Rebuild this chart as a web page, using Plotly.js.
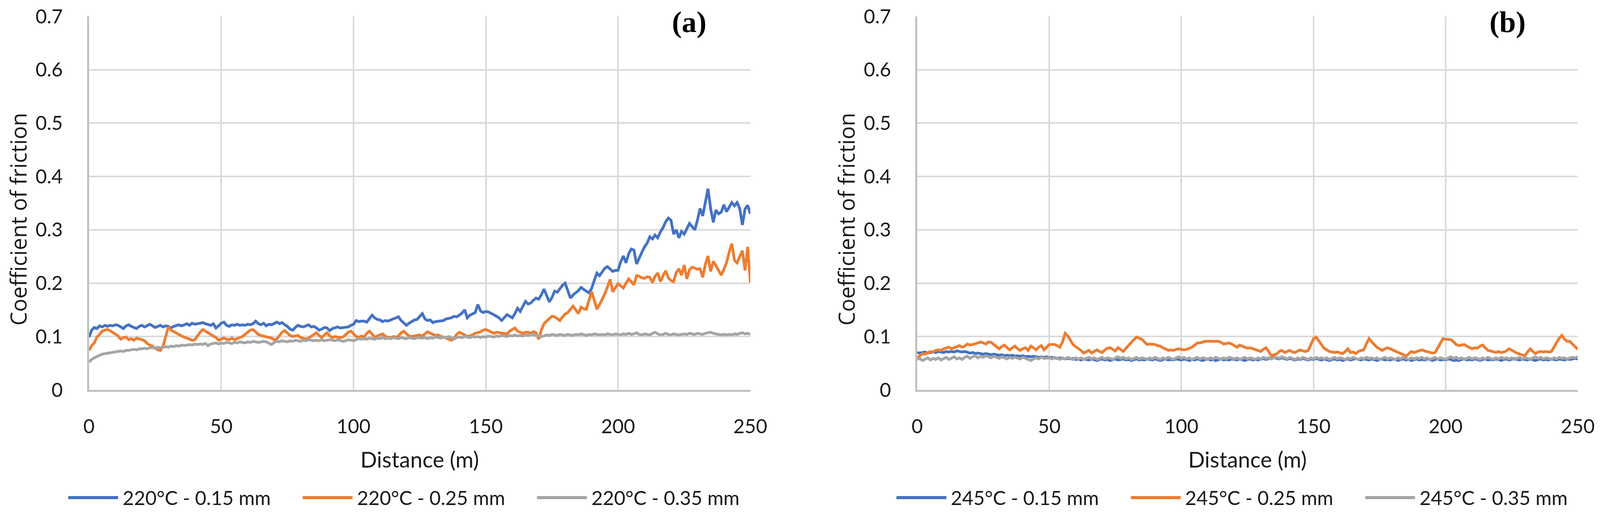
<!DOCTYPE html>
<html><head><meta charset="utf-8">
<script src="https://cdn.plot.ly/plotly-3.0.1.min.js"></script>
<style>html,body{margin:0;padding:0;background:#fff;overflow:hidden}</style>
</head><body><div id="chart"></div>
<script>
// ---------- DATA ----------
const distance = [0,1,2,3,4,5,6,7,8,9,10,11,12,13,14,15,16,17,18,19,20,21,22,23,24,25,26,27,28,29,30,31,32,33,34,35,36,37,38,39,40,41,42,43,44,45,46,47,48,49,50,51,52,53,54,55,56,57,58,59,60,61,62,63,64,65,66,67,68,69,70,71,72,73,74,75,76,77,78,79,80,81,82,83,84,85,86,87,88,89,90,91,92,93,94,95,96,97,98,99,100,101,102,103,104,105,106,107,108,109,110,111,112,113,114,115,116,117,118,119,120,121,122,123,124,125,126,127,128,129,130,131,132,133,134,135,136,137,138,139,140,141,142,143,144,145,146,147,148,149,150,151,152,153,154,155,156,157,158,159,160,161,162,163,164,165,166,167,168,169,170,171,172,173,174,175,176,177,178,179,180,181,182,183,184,185,186,187,188,189,190,191,192,193,194,195,196,197,198,199,200,201,202,203,204,205,206,207,208,209,210,211,212,213,214,215,216,217,218,219,220,221,222,223,224,225,226,227,228,229,230,231,232,233,234,235,236,237,238,239,240,241,242,243,244,245,246,247,248,249,250];

const cof220_015 = [
.099,.112,.117,.115,.120,.118,.121,.119,.121,.120,
.122,.121,.118,.115,.120,.122,.119,.117,.115,.119,
.121,.118,.121,.123,.120,.117,.119,.121,.118,.120,
.119,.116,.119,.121,.122,.120,.122,.124,.121,.125,
.123,.124,.126,.126,.124,.122,.121,.124,.116,.120,
.125,.127,.121,.119,.122,.121,.123,.121,.122,.121,
.123,.122,.124,.129,.124,.122,.125,.120,.123,.122,
.125,.127,.124,.126,.122,.119,.114,.112,.117,.121,
.119,.118,.120,.122,.118,.119,.116,.112,.114,.117,
.116,.111,.115,.117,.118,.116,.117,.118,.118,.121,
.123,.130,.128,.129,.129,.127,.133,.140,.135,.132,
.131,.128,.130,.129,.131,.133,.135,.137,.130,.126,
.121,.125,.128,.131,.132,.137,.143,.133,.130,.131,
.126,.128,.129,.130,.130,.133,.134,.135,.138,.137,
.140,.144,.150,.135,.140,.143,.145,.160,.148,.145,
.147,.146,.144,.141,.138,.135,.130,.136,.141,.138,
.135,.143,.153,.147,.158,.166,.161,.163,.168,.172,
.170,.178,.189,.178,.165,.173,.185,.183,.190,.196,
.200,.185,.172,.178,.182,.186,.192,.188,.185,.182,
.190,.205,.219,.214,.222,.228,.231,.227,.222,.224,
.224,.240,.251,.238,.255,.264,.262,.236,.248,.258,
.268,.275,.287,.283,.290,.285,.296,.304,.315,.322,
.318,.292,.300,.285,.297,.292,.302,.312,.306,.300,
.318,.340,.326,.350,.377,.340,.314,.337,.330,.333,
.347,.334,.342,.351,.345,.351,.340,.309,.339,.346,
.330];

const cof220_025 = [
.074,.083,.088,.099,.104,.110,.112,.113,.111,.108,
.105,.101,.095,.098,.099,.094,.096,.093,.097,.096,
.094,.092,.087,.084,.082,.078,.075,.074,.082,.100,
.118,.112,.109,.106,.103,.101,.099,.097,.095,.093,
.094,.102,.108,.113,.110,.106,.103,.101,.098,.093,
.095,.097,.095,.094,.097,.094,.096,.098,.100,.104,
.108,.112,.113,.109,.104,.102,.101,.099,.098,.097,
.094,.095,.102,.108,.111,.106,.102,.100,.101,.102,
.098,.096,.095,.097,.100,.104,.107,.102,.098,.103,
.107,.101,.098,.100,.099,.098,.099,.104,.108,.110,
.104,.100,.099,.101,.099,.106,.110,.104,.099,.101,
.103,.105,.101,.098,.098,.100,.099,.101,.107,.110,
.105,.101,.100,.101,.103,.103,.101,.105,.109,.106,
.104,.102,.103,.100,.099,.097,.095,.093,.097,.104,
.108,.106,.103,.100,.101,.103,.106,.107,.109,.112,
.113,.111,.108,.106,.108,.107,.107,.105,.105,.110,
.113,.116,.110,.108,.106,.108,.108,.106,.109,.107,
.095,.112,.124,.129,.134,.138,.137,.133,.130,.137,
.142,.145,.152,.157,.150,.143,.155,.152,.151,.168,
.184,.168,.151,.160,.170,.180,.193,.207,.184,.192,
.199,.195,.191,.200,.208,.203,.197,.214,.213,.210,
.209,.212,.211,.201,.213,.219,.203,.214,.223,.210,
.205,.203,.220,.227,.215,.234,.208,.225,.230,.228,
.226,.227,.211,.235,.251,.222,.241,.233,.224,.215,
.226,.238,.258,.274,.243,.238,.250,.261,.224,.268,
.201];

const cof220_035 = [
.052,.057,.060,.063,.065,.067,.068,.069,.070,.071,
.071,.072,.073,.072,.074,.074,.075,.076,.075,.077,
.077,.078,.077,.079,.079,.078,.080,.079,.080,.081,
.080,.082,.081,.083,.082,.084,.083,.084,.085,.084,
.086,.085,.086,.085,.087,.083,.086,.087,.088,.086,
.088,.087,.089,.088,.087,.089,.088,.090,.089,.088,
.090,.089,.091,.090,.089,.090,.091,.090,.088,.085,
.089,.091,.090,.092,.091,.090,.092,.091,.093,.092,
.091,.093,.092,.094,.093,.092,.093,.092,.094,.092,
.093,.094,.093,.092,.094,.093,.091,.092,.094,.093,
.092,.094,.096,.095,.096,.095,.097,.096,.095,.097,
.096,.098,.096,.097,.096,.098,.097,.096,.098,.097,
.096,.098,.097,.096,.098,.097,.097,.098,.096,.098,
.097,.099,.098,.097,.099,.098,.100,.097,.095,.098,
.099,.098,.100,.099,.098,.100,.099,.100,.098,.100,
.099,.101,.100,.099,.101,.100,.102,.101,.100,.102,
.101,.103,.101,.102,.101,.103,.102,.103,.104,.102,
.101,.100,.101,.103,.102,.104,.103,.102,.104,.103,
.102,.104,.103,.102,.104,.103,.105,.103,.102,.104,
.103,.105,.104,.103,.104,.103,.105,.104,.103,.105,
.104,.103,.105,.104,.106,.104,.105,.107,.104,.103,
.105,.104,.103,.106,.108,.105,.103,.104,.106,.104,
.103,.105,.104,.103,.104,.105,.104,.106,.105,.104,
.106,.105,.104,.106,.107,.108,.106,.105,.104,.103,
.104,.103,.104,.103,.105,.104,.106,.107,.105,.106,
.104];

const cof245_015 = [
.070,.069,.070,.071,.069,.070,.071,.070,.072,.071,
.070,.072,.071,.072,.071,.073,.072,.071,.072,.070,
.069,.070,.068,.069,.068,.067,.068,.067,.066,.067,
.066,.065,.066,.064,.065,.064,.065,.063,.064,.063,
.064,.062,.063,.062,.063,.062,.061,.062,.061,.062,
.060,.061,.060,.059,.060,.059,.058,.059,.058,.059,
.057,.058,.056,.058,.057,.056,.058,.057,.055,.057,
.058,.056,.057,.055,.057,.058,.056,.057,.058,.056,
.057,.055,.057,.058,.056,.057,.056,.058,.057,.056,
.058,.057,.055,.057,.058,.056,.057,.056,.058,.057,
.056,.058,.057,.055,.057,.056,.058,.057,.055,.057,
.058,.056,.057,.055,.057,.058,.056,.057,.056,.058,
.057,.056,.058,.057,.055,.057,.058,.056,.057,.056,
.058,.059,.057,.058,.060,.061,.059,.058,.060,.058,
.057,.059,.058,.056,.058,.057,.059,.058,.056,.058,
.057,.059,.058,.056,.058,.057,.055,.057,.058,.056,
.057,.055,.057,.058,.056,.057,.059,.057,.056,.058,
.057,.056,.058,.057,.055,.057,.058,.056,.057,.056,
.058,.057,.055,.057,.058,.056,.057,.055,.057,.058,
.056,.057,.056,.058,.057,.055,.057,.058,.056,.057,
.056,.058,.057,.055,.056,.055,.057,.058,.056,.057,
.056,.058,.057,.055,.057,.058,.056,.057,.056,.058,
.057,.055,.057,.058,.056,.057,.059,.057,.056,.058,
.057,.056,.058,.057,.055,.057,.058,.056,.057,.056,
.058,.057,.056,.058,.057,.056,.058,.057,.058,.059,
.058];

const cof245_025 = [
.060,.064,.068,.067,.070,.072,.071,.074,.075,.074,
.077,.079,.080,.077,.079,.082,.083,.080,.082,.086,
.084,.085,.086,.088,.090,.088,.086,.090,.089,.085,
.081,.077,.081,.084,.079,.075,.079,.082,.077,.074,
.077,.079,.074,.082,.079,.075,.080,.083,.075,.080,
.085,.085,.085,.083,.080,.090,.106,.101,.094,.085,
.081,.078,.074,.069,.072,.074,.069,.072,.075,.072,
.070,.075,.078,.079,.076,.073,.079,.076,.072,.078,
.084,.089,.094,.099,.097,.095,.090,.085,.086,.086,
.085,.083,.082,.079,.076,.074,.075,.074,.076,.077,
.076,.075,.076,.078,.080,.084,.088,.088,.090,.091,
.091,.091,.091,.091,.091,.089,.086,.087,.088,.086,
.083,.080,.084,.082,.080,.078,.079,.077,.076,.073,
.072,.076,.079,.072,.064,.066,.067,.072,.074,.070,
.072,.074,.071,.070,.073,.075,.073,.072,.074,.085,
.096,.099,.092,.086,.078,.075,.072,.071,.070,.071,
.069,.068,.072,.077,.070,.071,.068,.072,.074,.075,
.086,.096,.090,.084,.080,.077,.074,.077,.079,.077,
.075,.073,.070,.068,.066,.063,.068,.072,.070,.072,
.074,.075,.073,.072,.071,.069,.070,.078,.088,.096,
.095,.094,.094,.090,.085,.083,.084,.085,.082,.079,
.077,.079,.078,.082,.084,.079,.074,.073,.072,.070,
.072,.070,.071,.073,.077,.074,.071,.069,.067,.066,
.064,.071,.077,.072,.068,.071,.072,.071,.072,.071,
.072,.080,.089,.097,.102,.095,.091,.091,.086,.081,
.076];

const cof245_035 = [
.057,.059,.055,.058,.060,.056,.059,.057,.060,.056,
.059,.061,.057,.059,.062,.058,.060,.057,.061,.063,
.059,.062,.064,.060,.063,.061,.064,.062,.060,.063,
.061,.059,.062,.060,.058,.061,.059,.061,.060,.058,
.061,.059,.057,.055,.058,.060,.058,.061,.059,.060,
.060,.058,.061,.059,.057,.060,.058,.061,.059,.057,
.060,.058,.060,.057,.059,.061,.058,.060,.057,.059,
.061,.058,.060,.059,.057,.060,.062,.059,.061,.058,
.060,.057,.059,.061,.058,.060,.059,.057,.060,.058,
.061,.059,.057,.060,.058,.061,.059,.057,.060,.062,
.059,.061,.058,.060,.057,.059,.061,.058,.060,.059,
.057,.060,.058,.061,.059,.057,.060,.058,.061,.059,
.058,.060,.057,.059,.061,.058,.060,.059,.057,.060,
.058,.061,.059,.060,.058,.060,.061,.059,.062,.060,
.058,.061,.059,.057,.060,.058,.061,.059,.057,.060,
.058,.061,.059,.060,.058,.060,.057,.059,.061,.058,
.060,.059,.057,.060,.058,.061,.059,.057,.060,.058,
.061,.059,.060,.058,.060,.057,.059,.061,.058,.060,
.059,.057,.060,.058,.061,.059,.057,.060,.058,.060,
.059,.061,.058,.060,.057,.059,.061,.058,.060,.059,
.057,.060,.062,.059,.061,.058,.060,.057,.059,.061,
.058,.060,.059,.057,.060,.058,.061,.059,.057,.060,
.058,.061,.059,.060,.058,.060,.057,.059,.061,.058,
.060,.059,.057,.060,.062,.059,.061,.058,.060,.059,
.057,.060,.058,.061,.059,.060,.058,.060,.061,.060,
.062];

const seriesNamesA = ['220°C - 0.15 mm', '220°C - 0.25 mm', '220°C - 0.35 mm'];
const seriesNamesB = ['245°C - 0.15 mm', '245°C - 0.25 mm', '245°C - 0.35 mm'];
const seriesA = [cof220_015, cof220_025, cof220_035];
const seriesB = [cof245_015, cof245_025, cof245_035];
const seriesColors = ['#4472C4', '#ED7D31', '#A5A5A5'];
const xTickVals = [0, 50, 100, 150, 200, 250];
const xTickText = ['0', '50', '100', '150', '200', '250'];
const yTickVals = [0, 0.1, 0.2, 0.3, 0.4, 0.5, 0.6, 0.7];
const yTickText = ['0', '0.1', '0.2', '0.3', '0.4', '0.5', '0.6', '0.7'];
const panelLabels = ['(a)', '(b)'];
const xTitle = 'Distance (m)';
const yTitle = 'Coefficient of friction';

// ---------- LAYOUT ----------
// design coordinates are in the reference's 4171 x 1317 pixel frame, converted to paper fractions
const DW = 4171, DH = 1317;
const W = window.innerWidth || DW;
const H = window.innerHeight || DH;
const px = v => v / DW;
const py = v => 1 - v / DH;
const panels = [
  {left: 232, right: 1956, xa: 'x', ya: 'y', names: seriesNamesA, series: seriesA, label: panelLabels[0], labelX: 1797},
  {left: 2391, right: 4113, xa: 'x2', ya: 'y2', names: seriesNamesB, series: seriesB, label: panelLabels[1], labelX: 3930}
];
const plotTop = 42, plotBottom = 999;
const TXT = '#1a1a1a';

function xAxis(p, anchor) {
  return {
    domain: [px(p.left), px(p.right)], range: [0, 250], anchor: anchor,
    tickmode: 'array', tickvals: xTickVals, ticktext: xTickText,
    showgrid: true, gridcolor: '#d9d9d9', gridwidth: 4,
    showline: true, linecolor: '#bfbfbf', linewidth: 5, zeroline: false,
    ticks: '', ticklabelstandoff: 46,
    tickfont: {family: 'Lato', size: 50, color: TXT},
    title: {text: xTitle, font: {family: 'Lato', size: 56, color: TXT}, standoff: 40},
    fixedrange: true
  };
}
function yAxis(p, anchor) {
  return {
    domain: [py(plotBottom), py(plotTop)], range: [0, 0.7], anchor: anchor,
    tickmode: 'array', tickvals: yTickVals, ticktext: yTickText,
    showgrid: true, gridcolor: '#d9d9d9', gridwidth: 4,
    showline: true, linecolor: '#bfbfbf', linewidth: 5, zeroline: false,
    ticks: '', ticklabelstandoff: 52,
    tickfont: {family: 'Lato', size: 50, color: TXT},
    fixedrange: true
  };
}

const traces = [];
const annotations = [];
const shapes = [];
panels.forEach(p => {
  p.series.forEach((vals, i) => {
    traces.push({
      type: 'scatter', mode: 'lines', x: distance, y: vals,
      xaxis: p.xa, yaxis: p.ya, name: p.names[i], showlegend: false,
      line: {color: seriesColors[i], width: 7}, hoverinfo: 'skip'
    });
    // legend key + label
    const ls = p.left - 54 + i * 611;
    shapes.push({type: 'line', xref: 'paper', yref: 'paper', x0: px(ls), x1: px(ls + 130),
      y0: py(1275), y1: py(1275), line: {color: seriesColors[i], width: 8}});
    annotations.push({xref: 'paper', yref: 'paper', x: px(ls + 140), y: py(1275),
      xanchor: 'left', yanchor: 'middle', showarrow: false, text: p.names[i],
      font: {family: 'Lato', size: 50, color: TXT}});
  });
  annotations.push({xref: 'paper', yref: 'paper', x: px(p.labelX), y: py(57),
    xanchor: 'center', yanchor: 'middle', showarrow: false, text: '<b>' + p.label + '</b>',
    font: {family: 'Liberation Serif', size: 76, color: '#000'}});
  annotations.push({xref: 'paper', yref: 'paper', x: px(p.left - 185), y: py(562),
    xanchor: 'center', yanchor: 'middle', showarrow: false, textangle: -90, text: yTitle,
    font: {family: 'Open Sans', size: 56, color: TXT}});
});

const layout = {
  width: W, height: H, margin: {l: 0, r: 0, t: 0, b: 0},
  paper_bgcolor: '#fff', plot_bgcolor: '#fff', showlegend: false,
  xaxis: xAxis(panels[0], 'y'), yaxis: yAxis(panels[0], 'x'),
  xaxis2: xAxis(panels[1], 'y2'), yaxis2: yAxis(panels[1], 'x2'),
  annotations: annotations, shapes: shapes
};

Plotly.newPlot('chart', traces, layout, {staticPlot: true, displayModeBar: false});
</script></body></html>
